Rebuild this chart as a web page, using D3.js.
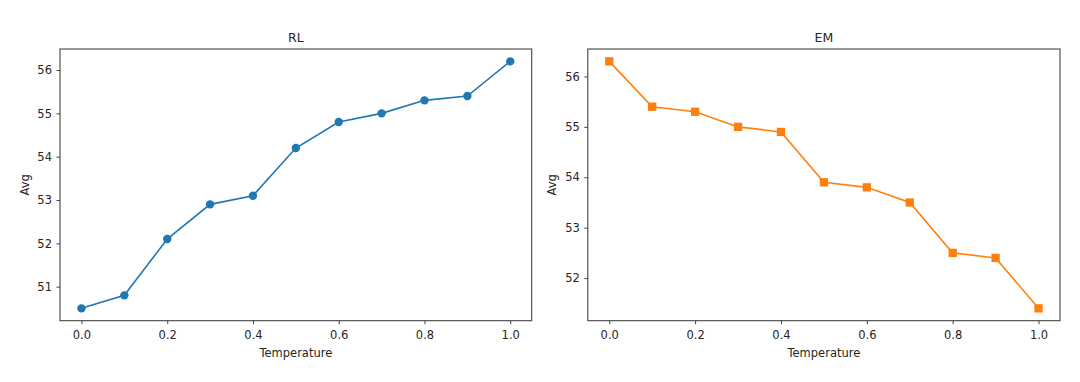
<!DOCTYPE html>
<html><head><meta charset="utf-8">
<script src="https://cdn.jsdelivr.net/npm/d3@7"></script>
<style>
html,body{margin:0;padding:0;background:#fff;}
svg text{font-family:"DejaVu Sans",sans-serif;fill:#262626;}
</style></head>
<body><svg id="chart" width="1080" height="382"></svg>
<script>
const temperatures = [0.0,0.1,0.2,0.3,0.4,0.5,0.6,0.7,0.8,0.9,1.0];
const rlValues = [50.5,50.8,52.1,52.9,53.1,54.2,54.8,55.0,55.3,55.4,56.2];
const emValues = [56.3,55.4,55.3,55.0,54.9,53.9,53.8,53.5,52.5,52.4,51.4];
const xTicks = [0.0,0.2,0.4,0.6,0.8,1.0];
const rlYTicks = [51,52,53,54,55,56];
const emYTicks = [52,53,54,55,56];

const svg = d3.select("#chart");
const panels = [
  {title:"RL", values:rlValues, yTicks:rlYTicks, color:"#1f77b4", marker:"circle", left:60, right:531.7},
  {title:"EM", values:emValues, yTicks:emYTicks, color:"#ff7f0e", marker:"square", left:587.8, right:1060}
];
const plotTop = 49, plotBottom = 320.7;
const fs = 11.5;

function padded(ext){const r=ext[1]-ext[0];return [ext[0]-0.05*r, ext[1]+0.05*r];}

panels.forEach(p=>{
  const x = d3.scaleLinear().domain(padded(d3.extent(temperatures))).range([p.left,p.right]);
  const y = d3.scaleLinear().domain(padded(d3.extent(p.values))).range([plotBottom,plotTop]);
  const g = svg.append("g");

  const xa = g.append("g").attr("transform",`translate(0,${plotBottom})`)
    .call(d3.axisBottom(x).tickValues(xTicks).tickFormat(d3.format(".1f")).tickSize(3.5).tickPadding(7));
  const ya = g.append("g").attr("transform",`translate(${p.left},0)`)
    .call(d3.axisLeft(y).tickValues(p.yTicks).tickFormat(d3.format("d")).tickSize(3.5).tickPadding(4.5));
  [xa,ya].forEach(a=>{
    a.select(".domain").remove();
    a.selectAll(".tick line").attr("stroke","#444").attr("stroke-width",1);
    a.selectAll(".tick text").attr("font-size",fs).attr("fill","#262626");
  });

  g.append("rect").attr("x",p.left).attr("y",plotTop).attr("width",p.right-p.left).attr("height",plotBottom-plotTop)
    .attr("fill","none").attr("stroke","#444").attr("stroke-width",1.1);

  const line = d3.line().x((d,i)=>x(temperatures[i])).y(d=>y(d));
  g.append("path").datum(p.values).attr("d",line).attr("fill","none")
    .attr("stroke",p.color).attr("stroke-width",1.6);

  if(p.marker==="circle"){
    g.selectAll("circle.m").data(p.values).enter().append("circle")
      .attr("cx",(d,i)=>x(temperatures[i])).attr("cy",d=>y(d)).attr("r",4.2).attr("fill",p.color);
  } else {
    const s=8.3;
    g.selectAll("rect.m").data(p.values).enter().append("rect")
      .attr("x",(d,i)=>x(temperatures[i])-s/2).attr("y",d=>y(d)-s/2).attr("width",s).attr("height",s).attr("fill",p.color);
  }

  g.append("text").attr("x",(p.left+p.right)/2).attr("y",41.7).attr("text-anchor","middle")
    .attr("font-size",12.5).text(p.title);
  g.append("text").attr("x",(p.left+p.right)/2).attr("y",357).attr("text-anchor","middle")
    .attr("font-size",fs).text("Temperature");
  g.append("text").attr("transform",`translate(${p.left-31.5},${(plotTop+plotBottom)/2}) rotate(-90)`)
    .attr("text-anchor","middle").attr("font-size",fs).text("Avg");
});
</script></body></html>
